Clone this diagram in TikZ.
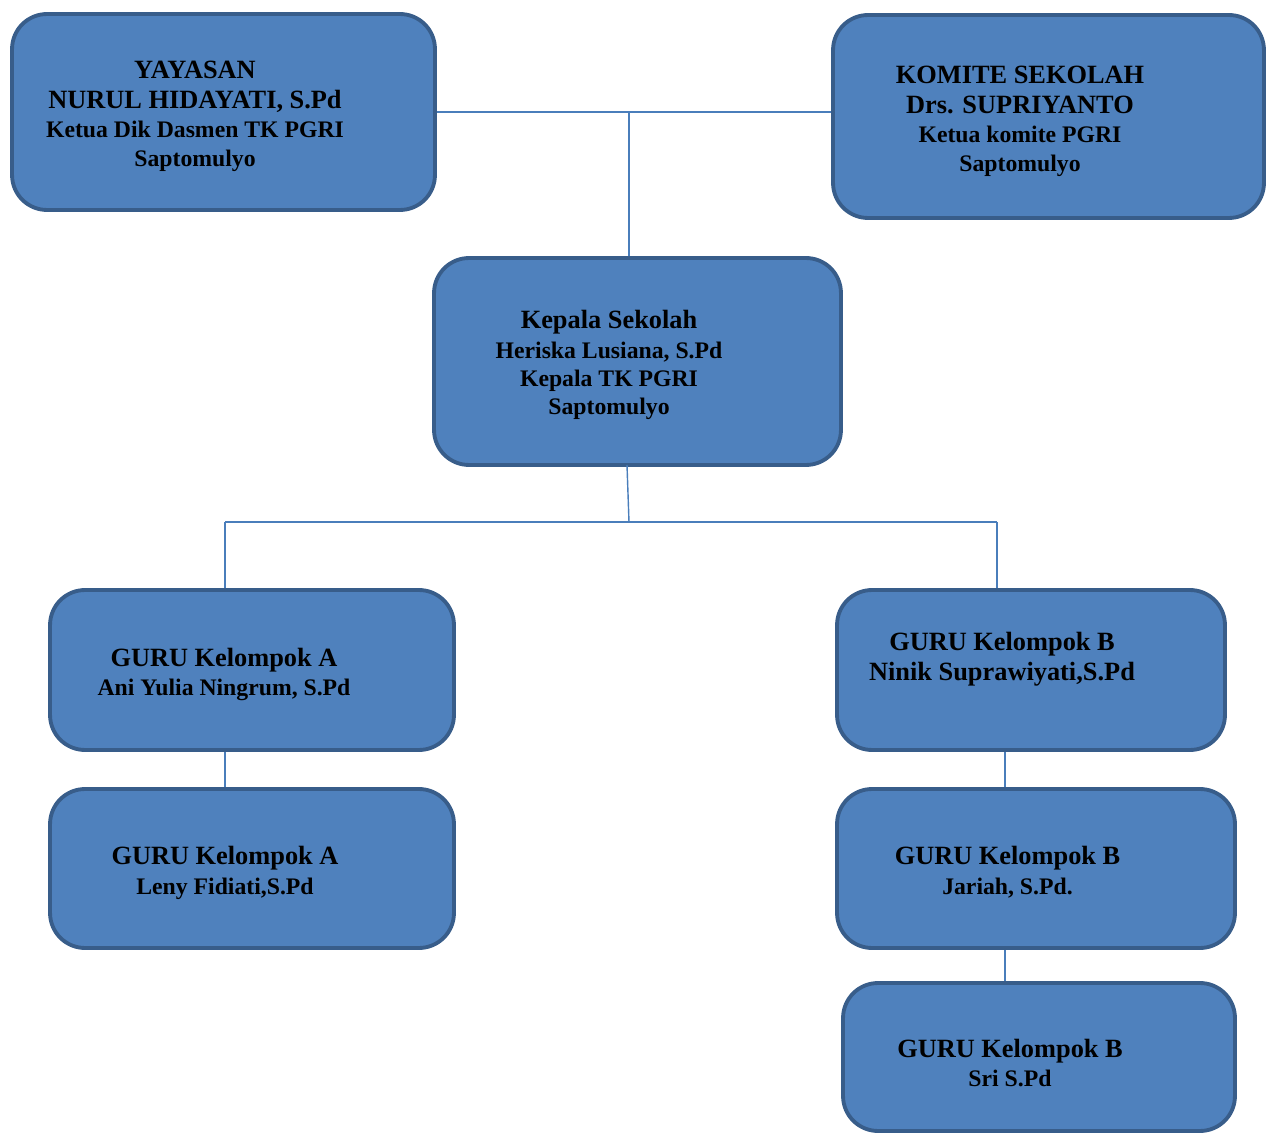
\documentclass[tikz,border=0pt]{standalone}
\usepackage{fontspec}
\setmainfont{Liberation Serif}
\usepackage{tikz}

\definecolor{boxblue}{HTML}{4F81BD}
\definecolor{boxedge}{HTML}{385D8A}
\definecolor{linkblue}{HTML}{4A7EBB}
\newcommand{\HeadTxt}{\fontsize{15}{17}\selectfont}
\newcommand{\SubTxt}{\fontsize{13.5}{16}\selectfont}

\begin{document}
\begin{tikzpicture}[x=0.02cm,y=-0.02cm]
\useasboundingbox (0,0) rectangle (1272,1135);

\begin{scope}[every node/.style={rectangle,rounded corners=0.7cm,fill=boxblue,draw=boxedge,line width=2.2pt}]
    \node[minimum width=8.46cm,minimum height=3.92cm] (Yayasan) at (223.5,112) {};
    \node[minimum width=8.62cm,minimum height=4.06cm] (Komite) at (1048.5,116.5) {};
    \node[minimum width=8.14cm,minimum height=4.14cm] (Kepala) at (637.5,361.5) {};
    \node[minimum width=8.08cm,minimum height=3.2cm] (GuruA1) at (252,670) {};
    \node[minimum width=8.08cm,minimum height=3.18cm] (GuruA2) at (252,868.5) {};
    \node[minimum width=7.76cm,minimum height=3.2cm] (GuruB1) at (1031,670) {};
    \node[minimum width=7.96cm,minimum height=3.18cm] (GuruB2) at (1036,868.5) {};
    \node[minimum width=7.84cm,minimum height=2.96cm] (GuruB3) at (1039,1057) {};
\end{scope}

\begin{scope}[every node/.style={align=center,font=\bfseries\HeadTxt,inner sep=0pt}]
    \node (YayasanTxt) at (195,116) {YAYASAN\\ NURUL HIDAYATI, S.Pd\\ \SubTxt Ketua Dik Dasmen TK PGRI\\[-1pt] \SubTxt Saptomulyo};
    \node (KomiteTxt) at (1020,121) {KOMITE SEKOLAH\\ Drs. SUPRIYANTO\\ \SubTxt Ketua komite PGRI\\[-1pt] \SubTxt Saptomulyo};
    \node (KepalaTxt) at (609,365) {Kepala Sekolah\\ \SubTxt Heriska Lusiana, S.Pd\\[-1pt] \SubTxt Kepala TK PGRI\\[-1pt] \SubTxt Saptomulyo};
    \node (GuruA1Txt) at (224,674.5) {GURU Kelompok A\\ \SubTxt Ani Yulia Ningrum, S.Pd};
    \node (GuruA2Txt) at (225,872.5) {GURU Kelompok A\\ \SubTxt Leny Fidiati,S.Pd};
    \node (GuruB1Txt) at (1002,659) {GURU Kelompok B\\ Ninik Suprawiyati,S.Pd};
    \node (GuruB2Txt) at (1007.5,872) {GURU Kelompok B\\ \SubTxt Jariah, S.Pd.};
    \node (GuruB3Txt) at (1010,1063) {GURU Kelompok B\\ \SubTxt Sri S.Pd};
\end{scope}

\begin{scope}[every edge/.style={draw=linkblue,line width=0.8pt}]
    \coordinate (TopJoin) at (629,112);
    \coordinate (KepalaFoot) at (627,465);
    \coordinate (MidJoin) at (629,522);
    \coordinate (LeftJoin) at (225,522);
    \coordinate (RightJoin) at (997,522);
    \coordinate (BLine) at (1005,0);

    \path (Yayasan.east) edge (Yayasan.east -| Komite.west);
    \path (TopJoin) edge (TopJoin |- Kepala.north);
    \path (KepalaFoot) edge (MidJoin);
    \path (LeftJoin) edge (RightJoin);
    \path (LeftJoin) edge (LeftJoin |- GuruA1.north);
    \path (RightJoin) edge (RightJoin |- GuruB1.north);
    \path (LeftJoin |- GuruA1.south) edge (LeftJoin |- GuruA2.north);
    \path (BLine |- GuruB1.south) edge (BLine |- GuruB2.north);
    \path (BLine |- GuruB2.south) edge (BLine |- GuruB3.north);
\end{scope}
\end{tikzpicture}
\end{document}
